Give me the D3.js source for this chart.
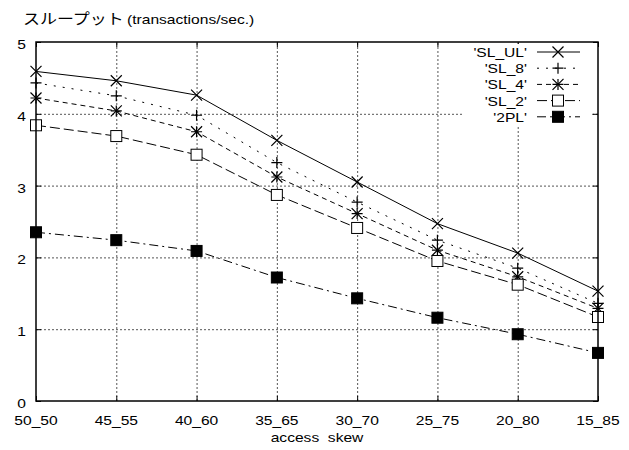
<!DOCTYPE html>
<html>
<head>
<meta charset="utf-8">
<script src="https://cdn.jsdelivr.net/npm/d3@7"></script>
<style>
  body { margin: 0; background: #fff; }
  text { font-family: "Liberation Sans", Arial, sans-serif; font-size: 13px; fill: #000; white-space: pre; }
</style>
</head>
<body>
<div id="chart"></div>
<script>
// categories on the x axis
let skews = ["50_50", "45_55", "40_60", "35_65", "30_70", "25_75", "20_80", "15_85"];

// throughput per series (transactions/sec.)
let slUL = [4.59, 4.46, 4.26, 3.63, 3.05, 2.47, 2.06, 1.53];
let sl8  = [4.43, 4.25, 3.98, 3.32, 2.77, 2.24, 1.85, 1.36];
let sl4  = [4.22, 4.04, 3.75, 3.12, 2.61, 2.10, 1.73, 1.29];
let sl2  = [3.84, 3.69, 3.43, 2.87, 2.41, 1.95, 1.62, 1.17];
let twoPL = [2.35, 2.24, 2.09, 1.72, 1.43, 1.16, 0.93, 0.67];

let yTicks = [0, 1, 2, 3, 4, 5];

// series: name, values, dash, marker
let series = [
    {name: "'SL_UL'", values: slUL, dash: null, marker: "x"},
    {name: "'SL_8'", values: sl8, dash: "2,7", marker: "plus"},
    {name: "'SL_4'", values: sl4, dash: "5,4", marker: "star"},
    {name: "'SL_2'", values: sl2, dash: "10,4", marker: "box"},
    {name: "'2PL'", values: twoPL, dash: "9,4,2,4", marker: "fbox"}
];

let w = 629, h = 450;
let margins = {top: 42, right: 31, bottom: 49, left: 36};

let svg = d3.select("#chart")
            .append("svg")
            .attr("width", w)
            .attr("height", h);

// scales
let x = d3.scalePoint()
          .domain(skews)
          .range([margins.left, w - margins.right]);
let y = d3.scaleLinear()
          .domain([0, 5])
          .range([h - margins.bottom, margins.top]);

let x0 = x.range()[0], x1 = x.range()[1];
let y0 = y.range()[0], y1 = y.range()[1];

// stretched text like the gnuplot output
function stretchText(sel, px, py, anchor, str) {
    return sel.append("text")
              .attr("transform", "translate(" + px + "," + py + ") scale(1.2,1)")
              .attr("text-anchor", anchor)
              .text(str);
}

// grid lines
let grid = svg.append("g")
              .attr("stroke", "#555")
              .attr("stroke-width", 1)
              .attr("stroke-dasharray", "2,2");

grid.selectAll(".gy")
    .data(yTicks.slice(1, -1))
    .enter()
    .append("line")
    .attr("x1", x0).attr("x2", x1)
    .attr("y1", d => y(d) + 0.5).attr("y2", d => y(d) + 0.5);

grid.selectAll(".gx")
    .data(skews.slice(1, -1))
    .enter()
    .append("line")
    .attr("x1", d => x(d) + 0.5).attr("x2", d => x(d) + 0.5)
    .attr("y1", y0).attr("y2", y1);

// tick labels
yTicks.forEach(function(t) {
    stretchText(svg, x0 - 10, y(t) + 7, "end", t);
});
skews.forEach(function(s) {
    stretchText(svg, x(s), y0 + 24, "middle", s);
});

// axis titles
stretchText(svg, (x0 + x1) / 2, 442, "middle", "access  skew");
svg.append("text")
   .attr("transform", "translate(23,24) scale(1.17,1)")
   .style("font-family", "'Noto Sans CJK JP', sans-serif")
   .style("font-size", "14.5px")
   .text("スループット");
svg.append("text")
   .attr("transform", "translate(127,24) scale(1.2,1)")
   .text("(transactions/sec.)");

// small inner tick marks
let ticks = svg.append("g").attr("stroke", "#000").attr("stroke-width", 1);
yTicks.forEach(function(t) {
    ticks.append("line").attr("x1", x0).attr("x2", x0 + 5)
         .attr("y1", y(t) + 0.5).attr("y2", y(t) + 0.5);
    ticks.append("line").attr("x1", x1 - 5).attr("x2", x1)
         .attr("y1", y(t) + 0.5).attr("y2", y(t) + 0.5);
});
skews.forEach(function(s) {
    ticks.append("line").attr("x1", x(s) + 0.5).attr("x2", x(s) + 0.5)
         .attr("y1", y0).attr("y2", y0 - 5);
    ticks.append("line").attr("x1", x(s) + 0.5).attr("x2", x(s) + 0.5)
         .attr("y1", y1).attr("y2", y1 + 5);
});

// draw a point marker
function drawMarker(g, kind, cx, cy) {
    let r = 5.5;
    if (kind == "x" || kind == "star") {
        g.append("path")
         .attr("d", `M${cx - r},${cy - r}L${cx + r},${cy + r}M${cx - r},${cy + r}L${cx + r},${cy - r}`)
         .attr("stroke", "#000").attr("stroke-width", 1.2);
    }
    if (kind == "plus" || kind == "star") {
        g.append("path")
         .attr("d", `M${cx - r},${cy}L${cx + r},${cy}M${cx},${cy - r}L${cx},${cy + r}`)
         .attr("stroke", "#000").attr("stroke-width", 1.2);
    }
    if (kind == "box" || kind == "fbox") {
        g.append("rect")
         .attr("x", cx - r).attr("y", cy - r)
         .attr("width", 2 * r).attr("height", 2 * r)
         .attr("fill", kind == "box" ? "#fff" : "#000")
         .attr("stroke", "#000").attr("stroke-width", 1);
    }
}

let line = d3.line()
             .x((d, i) => x(skews[i]))
             .y(d => y(d));

series.forEach(function(s) {
    let g = svg.append("g");
    g.append("path")
     .datum(s.values)
     .attr("d", line)
     .attr("fill", "none")
     .attr("stroke", "#000")
     .attr("stroke-width", 1)
     .attr("stroke-dasharray", s.dash);
    s.values.forEach(function(v, i) {
        drawMarker(g, s.marker, x(skews[i]), y(v));
    });
});

// legend, on a white patch that hides the grid
let legend = svg.append("g");
legend.append("rect")
      .attr("x", 462).attr("y", 44)
      .attr("width", 128).attr("height", 82)
      .attr("fill", "#fff");
series.forEach(function(s, i) {
    let ly = 52 + i * 16.2;
    stretchText(legend, 527, ly + 5, "end", s.name);
    legend.append("line")
          .attr("x1", 537).attr("x2", 580)
          .attr("y1", ly).attr("y2", ly)
          .attr("stroke", "#000")
          .attr("stroke-width", 1)
          .attr("stroke-dasharray", s.dash);
    drawMarker(legend, s.marker, 558, ly);
});

// plot border
svg.append("rect")
   .attr("x", x0).attr("y", y1)
   .attr("width", x1 - x0).attr("height", y0 - y1)
   .attr("fill", "none")
   .attr("stroke", "#000")
   .attr("stroke-width", 1.5);
</script>
</body>
</html>
